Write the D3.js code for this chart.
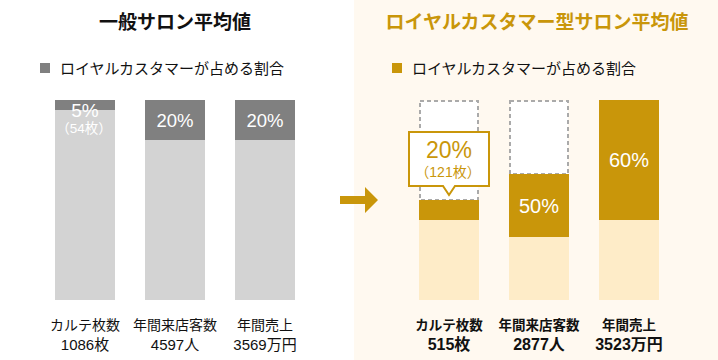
<!DOCTYPE html>
<html><head><meta charset="utf-8">
<script src="https://cdn.jsdelivr.net/npm/d3@7"></script>
<style>
html,body{margin:0;padding:0;background:#fff;}
svg{display:block;font-family:"Liberation Sans","Noto Sans CJK JP",sans-serif;}
</style></head>
<body>
<svg id="c" width="718" height="360"></svg>
<script>
// ---- data ----
const metrics = ["カルテ枚数", "年間来店客数", "年間売上"];
const units = ["枚", "人", "万円"];
const generalTitle = "一般サロン平均値";
const loyalTitle = "ロイヤルカスタマー型サロン平均値";
const legendLabel = "ロイヤルカスタマーが占める割合";
const generalValues = [1086, 4597, 3569];
const generalSharePct = [5, 20, 20];
const generalNote = ["（54枚）", "", ""];
const loyalValues = [515, 2877, 3523];
const loyalSharePct = [20, 50, 60];
const loyalNote = ["（121枚）", "", ""];
const loyalBarRelative = [0.5, 0.63, 1.0]; // bar height vs. general salon, as drawn

// ---- colors ----
const C = {
  gDark: "#808080", gLight: "#d3d3d3",
  gold: "#c9960a", cream: "#feecc8", panel: "#fff9f0", dash: "#aaaaaa"
};

const svg = d3.select("#c");

// right panel background
svg.append("rect").attr("x", 354).attr("y", 0).attr("width", 364).attr("height", 360).attr("fill", C.panel);

// scales
const xL = d3.scaleBand().domain(metrics).range([55, 295]).paddingInner(1/3).paddingOuter(0);
const xR = d3.scaleBand().domain(metrics).range([419, 659]).paddingInner(1/3).paddingOuter(0);
const y = d3.scaleLinear().domain([0, 100]).range([300, 100]);
const bw = xL.bandwidth();

// titles
svg.append("text").attr("x", 175).attr("y", 29).attr("text-anchor", "middle")
  .attr("font-size", 19).attr("font-weight", "bold").attr("fill", "#111").text(generalTitle);
svg.append("text").attr("x", 537).attr("y", 29).attr("text-anchor", "middle")
  .attr("font-size", 19).attr("font-weight", "bold").attr("fill", C.gold).text(loyalTitle);

// legends
function legend(x, color) {
  svg.append("rect").attr("x", x).attr("y", 63).attr("width", 10).attr("height", 10).attr("fill", color);
  svg.append("text").attr("x", x + 20).attr("y", 73.5).attr("font-size", 15).attr("fill", "#111").text(legendLabel);
}
legend(40, C.gDark);
legend(392, C.gold);

// ---- general bars ----
const gG = svg.append("g");
metrics.forEach((m, i) => {
  const x0 = xL(m);
  gG.append("rect").attr("x", x0).attr("y", y(100)).attr("width", bw).attr("height", y(0) - y(100)).attr("fill", C.gLight);
  gG.append("rect").attr("x", x0).attr("y", y(100)).attr("width", bw).attr("height", y(100 - generalSharePct[i]) - y(100)).attr("fill", C.gDark);
  const cx = x0 + bw / 2;
  if (generalNote[i]) {
    gG.append("text").attr("x", cx).attr("y", 117).attr("text-anchor", "middle").attr("font-size", 19).attr("fill", "#fff").text(generalSharePct[i] + "%");
    gG.append("text").attr("x", cx - 1).attr("y", 133).attr("text-anchor", "middle").attr("font-size", 13.5).attr("fill", "#fff").text(generalNote[i]);
  } else {
    const mid = (y(100) + y(100 - generalSharePct[i])) / 2;
    gG.append("text").attr("x", cx).attr("y", mid).attr("dy", "0.36em").attr("text-anchor", "middle").attr("font-size", 18.5).attr("fill", "#fff").text(generalSharePct[i] + "%");
  }
  gG.append("text").attr("x", cx).attr("y", 330).attr("text-anchor", "middle").attr("font-size", 14).attr("fill", "#111").text(m);
  gG.append("text").attr("x", cx).attr("y", 350).attr("text-anchor", "middle").attr("font-size", 15).attr("fill", "#111").text(generalValues[i] + units[i]);
});

// ---- arrow ----
svg.append("path").attr("d", "M340,196 L365,196 L365,187 L378,200 L365,213 L365,204 L340,204 Z").attr("fill", C.gold);

// ---- loyal bars ----
const rG = svg.append("g");
metrics.forEach((m, i) => {
  const x0 = xR(m);
  const cx = x0 + bw / 2;
  const total = 100 * loyalBarRelative[i];
  const topY = y(total);
  const darkBottom = y(total * (1 - loyalSharePct[i] / 100));
  if (loyalBarRelative[i] < 1) {
    rG.append("rect").attr("x", x0 + 1).attr("y", y(100) + 1).attr("width", bw - 2).attr("height", topY - y(100) - 1)
      .attr("fill", "#fff").attr("stroke", C.dash).attr("stroke-width", 2).attr("stroke-dasharray", "4,3");
  }
  rG.append("rect").attr("x", x0).attr("y", topY).attr("width", bw).attr("height", y(0) - topY).attr("fill", C.cream);
  rG.append("rect").attr("x", x0).attr("y", topY).attr("width", bw).attr("height", darkBottom - topY).attr("fill", C.gold);
  if (loyalNote[i]) {
    // callout
    const bx = x0 - 10, by = 132, bwid = 80, bh = 54, tipX = cx, tipY = topY - 5;
    rG.append("path")
      .attr("d", `M${bx},${by} H${bx + bwid} V${by + bh} H${tipX + 6} L${tipX},${tipY} L${tipX - 6},${by + bh} H${bx} Z`)
      .attr("fill", "#fff").attr("stroke", C.gold).attr("stroke-width", 2);
    rG.append("text").attr("x", cx).attr("y", 158).attr("text-anchor", "middle").attr("font-size", 23).attr("fill", C.gold).text(loyalSharePct[i] + "%");
    rG.append("text").attr("x", cx - 1).attr("y", 177).attr("text-anchor", "middle").attr("font-size", 14).attr("fill", C.gold).text(loyalNote[i]);
  } else {
    const mid = (topY + darkBottom) / 2;
    rG.append("text").attr("x", cx).attr("y", mid).attr("dy", "0.36em").attr("text-anchor", "middle").attr("font-size", 20).attr("fill", "#fff").text(loyalSharePct[i] + "%");
  }
  rG.append("text").attr("x", cx).attr("y", 330).attr("text-anchor", "middle").attr("font-size", 13.5).attr("font-weight", "bold").attr("fill", "#111").text(m);
  rG.append("text").attr("x", cx).attr("y", 350).attr("text-anchor", "middle").attr("font-size", 16).attr("font-weight", "bold").attr("fill", "#111").text(loyalValues[i] + units[i]);
});
</script>
</body></html>
